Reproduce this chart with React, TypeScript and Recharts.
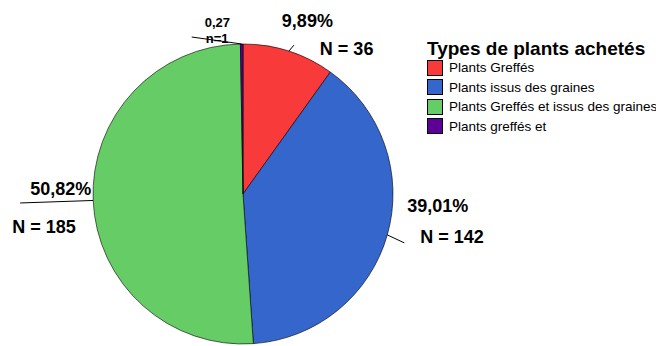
import { PieChart, Pie, Cell } from 'recharts';

const categories = ['Plants Greffés', 'Plants issus des graines', 'Plants Greffés et issus des graines', 'Plants greffés et'];
const counts = [36, 142, 185, 1];
const percents = ['9,89%', '39,01%', '50,82%', '0,27'];
const countLabels = ['N = 36', 'N = 142', 'N = 185', 'n=1'];
const colors = ['#f83a3a', '#3466cc', '#66cc66', '#5c0099'];

const data = categories.map((name, i) => ({ name, value: counts[i] }));

const font = '"Liberation Sans", Arial, sans-serif';

// per-slice label placement relative to the slice's outer point
const labelLayout = [
  { lx: 5, ly: -6, px: -7, py: -24, nx: 31, ny: 4, size: 18, nsize: 18 },
  { lx: 17, ly: 8, px: 20, py: -23, nx: 33, ny: 8, size: 18, nsize: 18 },
  { lx: -73, ly: 2.5, px: -63, py: -5.5, nx: -81, ny: 32.5, size: 18, nsize: 18 },
  { lx: -50, ly: -7, px: -37, py: -17, nx: -36, ny: -1, size: 13, nsize: 13 },
];

const RAD = Math.PI / 180;

function renderLabel(props: any) {
  const { cx, cy, midAngle, outerRadius, index } = props;
  const L = labelLayout[index];
  const x = cx + outerRadius * Math.cos(-midAngle * RAD);
  const y = cy + outerRadius * Math.sin(-midAngle * RAD);
  return (
    <g key={`lbl-${index}`}>
      <line x1={x} y1={y} x2={x + L.lx} y2={y + L.ly} stroke="#000" strokeWidth={1} />
      <text x={x + L.px} y={y + L.py} fontFamily={font} fontWeight="bold" fontSize={L.size} fill="#000">
        {percents[index]}
      </text>
      <text x={x + L.nx} y={y + L.ny} fontFamily={font} fontWeight="bold" fontSize={L.nsize} fill="#000">
        {countLabels[index]}
      </text>
    </g>
  );
}

function LegendBox() {
  return (
    <div style={{ position: 'absolute', left: 427, top: 39, fontFamily: font, color: '#000', whiteSpace: 'nowrap' }}>
      <div style={{ fontWeight: 'bold', fontSize: 19, lineHeight: '19px', height: 19 }}>Types de plants achetés</div>
      {categories.map((c, i) => (
        <div key={c} style={{ display: 'flex', alignItems: 'center', height: 19.5, fontSize: 13.5 }}>
          <span
            style={{
              display: 'inline-block',
              width: 14,
              height: 14,
              background: colors[i],
              border: '1px solid #000',
              marginRight: 6,
            }}
          />
          {c}
        </div>
      ))}
    </div>
  );
}

export default function App() {
  return (
    <div style={{ position: 'relative', width: 656, height: 346, overflow: 'hidden', background: '#fff' }}>
      <style>{`body{margin:0}`}</style>
      <PieChart width={656} height={346} margin={{ top: 0, right: 0, bottom: 0, left: 0 }}>
        <Pie
          data={data}
          dataKey="value"
          cx={243}
          cy={194}
          outerRadius={150}
          startAngle={90}
          endAngle={-270}
          stroke="#000"
          strokeWidth={0.6}
          label={renderLabel}
          labelLine={false}
          isAnimationActive={false}
        >
          {data.map((d, i) => (
            <Cell key={d.name} fill={colors[i]} />
          ))}
        </Pie>
      </PieChart>
      <LegendBox />
    </div>
  );
}
